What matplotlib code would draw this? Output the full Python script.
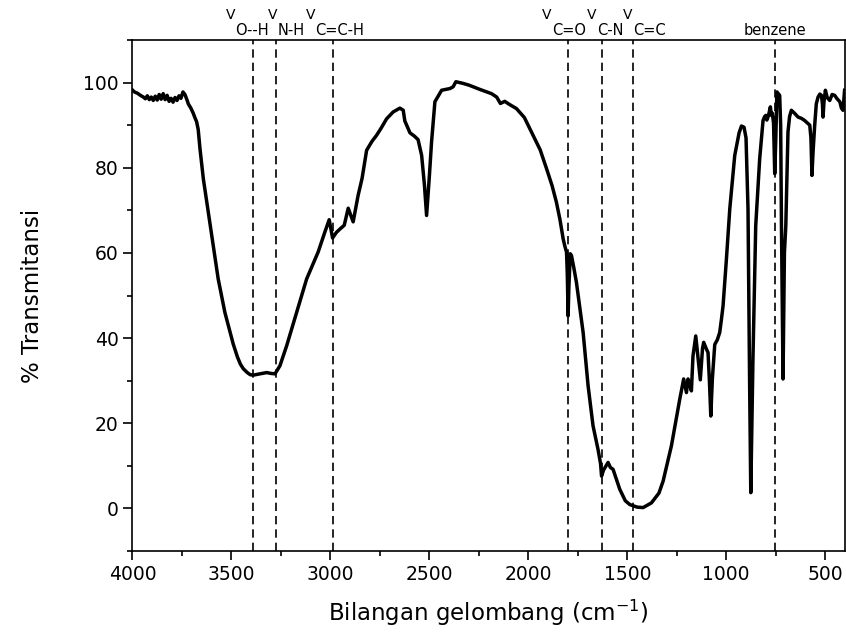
import numpy as np
import matplotlib.pyplot as plt

# FTIR spectrum (wavenumber cm-1, % transmittance)
wavenumber = [
    3999, 3990, 3975, 3960, 3945, 3935, 3925, 3915, 3905, 3895,
    3885, 3875, 3865, 3855, 3845, 3835, 3825, 3815, 3805, 3795,
    3785, 3775, 3765, 3755, 3745, 3735, 3725, 3718, 3705, 3693,
    3685, 3676, 3668, 3659, 3642, 3617, 3592, 3567, 3533, 3505,
    3491, 3470, 3455, 3440, 3420, 3405, 3390, 3355, 3322, 3300,
    3280, 3255, 3221, 3171,
    3120, 3062, 3028, 3006, 2989, 2970, 2952, 2930, 2910, 2897,
    2885, 2860, 2840, 2817, 2790, 2767, 2745, 2716, 2683, 2649,
    2632, 2624, 2598, 2575, 2557, 2539, 2525, 2514, 2500, 2489,
    2472, 2438, 2396, 2380, 2366, 2329, 2300, 2245, 2186, 2160,
    2141, 2119, 2100, 2060, 2020, 1976, 1940, 1908, 1880, 1858,
    1840, 1824, 1815, 1807, 1803, 1799, 1795, 1788, 1782, 1770,
    1757, 1723, 1698, 1673, 1648, 1635, 1630, 1620, 1597, 1585,
    1572, 1538, 1510, 1487, 1450, 1420, 1378, 1340, 1319, 1277,
    1235, 1215, 1201, 1193, 1185, 1176, 1168, 1154, 1142, 1131,
    1120, 1114, 1100, 1092, 1085, 1078, 1070, 1058, 1045, 1033,
    1024, 1016, 999, 982, 957, 935, 923, 910, 900, 890,
    882, 876, 870, 865, 851, 831, 814, 806, 800, 795,
    789, 783, 777, 772, 767, 761, 755, 750, 744, 737,
    730, 725, 721, 713, 706, 699, 688, 680, 671, 655,
    637, 620, 604, 590, 578, 572, 567, 561, 553, 545,
    536, 527, 519, 514, 511, 506, 499, 490, 477, 465,
    452, 440, 426, 418, 410, 402,
]
transmittance = [
    98.2, 97.8, 97.5, 97.0, 96.6, 96.2, 96.9, 96.0, 96.6, 95.8,
    96.8, 95.9, 97.2, 96.1, 97.4, 96.0, 97.0, 95.6, 96.3, 95.4,
    96.5, 95.8, 96.9, 96.3, 97.8, 97.2, 96.0, 95.0, 94.0, 92.8,
    91.8, 90.8, 89.0, 84.5, 77.4, 69.6, 61.7, 53.9, 46.0, 41.0,
    38.6, 35.6, 33.9, 32.8, 31.9, 31.4, 31.3, 31.6, 31.9, 31.7,
    31.6, 33.5, 38.2, 46.0,
    53.9, 60.2, 64.9, 67.8, 63.5, 64.8, 65.6, 66.5, 70.5, 68.8,
    67.3, 73.5, 77.5, 84.1, 86.2, 87.6, 89.2, 91.5, 93.1, 94.0,
    93.5, 91.0, 88.2, 87.4, 86.6, 82.9, 76.0, 68.8, 78.0, 86.0,
    95.5, 98.2, 98.6, 99.0, 100.2, 99.8, 99.4, 98.4, 97.4, 96.6,
    95.1, 95.6, 95.0, 93.9, 91.8, 87.6, 84.2, 79.8, 75.8, 71.9,
    67.8, 63.3, 61.5, 60.2, 55.0, 45.2, 52.0, 59.8, 59.4, 56.5,
    53.1, 41.3, 28.8, 19.4, 13.9, 10.5, 7.6, 9.0, 10.8, 9.6,
    9.2, 4.5, 1.8, 0.9, 0.3, 0.2, 1.3, 3.6, 6.4, 14.7,
    25.6, 30.4, 27.2, 30.4, 29.2, 27.6, 35.8, 40.5, 35.0, 30.2,
    37.5, 39.0, 37.4, 36.6, 30.0, 21.7, 30.5, 38.5, 39.6, 41.3,
    44.5, 47.6, 58.6, 70.4, 82.9, 88.2, 89.8, 89.5, 87.0, 70.4,
    30.0, 3.7, 20.0, 35.1, 66.4, 82.1, 91.1, 92.0, 92.3, 91.2,
    91.9, 93.0, 94.3, 92.3, 92.8, 90.5, 78.6, 86.0, 97.8, 97.4,
    97.0, 90.0, 66.4, 30.4, 60.0, 66.4, 88.4, 92.0, 93.5, 92.8,
    91.9, 91.6, 91.1, 90.5, 90.0, 87.0, 78.2, 84.0, 90.0, 95.0,
    96.6, 97.3, 97.0, 95.0, 91.9, 95.5, 98.2, 96.5, 95.8, 97.2,
    97.0, 96.2, 95.5, 94.0, 93.5, 98.2,
]

# band assignments: dashed line position, label anchor, subscript text
band_pos = [3393, 3275, 2986, 1802, 1630, 1471]
band_anchor = [3482, 3268, 3076, 1881, 1654, 1472]
band_sub = ['O--H', 'N-H', 'C=C-H', 'C=O', 'C-N', 'C=C']
benzene_pos = 752
benzene_anchor = 755

fig = plt.figure(figsize=(8.46, 6.41), dpi=100)
ax = fig.add_axes([0.1566, 0.1404, 0.8422, 0.7972])

ax.plot(wavenumber, transmittance, color='black', linewidth=2.5,
        solid_joinstyle='round')

trans = ax.get_xaxis_transform()
for x in band_pos + [benzene_pos]:
    ax.axvline(x, color='black', linewidth=1.2, linestyle=(0, (5, 3)))

for xa, sub in zip(band_anchor, band_sub):
    ax.text(xa, 1.041, 'V', transform=trans, ha='right', va='baseline',
            fontsize=10)
    ax.text(xa, 1.0098, sub, transform=trans, ha='left', va='baseline',
            fontsize=10.5)
ax.text(benzene_anchor, 1.0098, 'benzene', transform=trans, ha='center',
        va='baseline', fontsize=10.5)

ax.set_xlim(4000, 400)
ax.set_ylim(-10, 110)
ax.set_xticks([4000, 3500, 3000, 2500, 2000, 1500, 1000, 500])
ax.set_xticks(np.arange(3750, 400, -500), minor=True)
ax.set_yticks([0, 20, 40, 60, 80, 100])
ax.set_yticks([-10, 10, 30, 50, 70, 90, 110], minor=True)

ax.tick_params(which='major', direction='out', length=6.5, width=1.2,
               labelsize=13.5)
ax.tick_params(which='minor', direction='out', length=3.5, width=1.2)
for s in ax.spines.values():
    s.set_linewidth(1.2)

ax.set_xlabel('Bilangan gelombang (cm$^{-1}$)', fontsize=16.5, labelpad=10)
ax.set_ylabel('% Transmitansi', fontsize=16.5, labelpad=28)

plt.savefig('out.png', dpi=100)
